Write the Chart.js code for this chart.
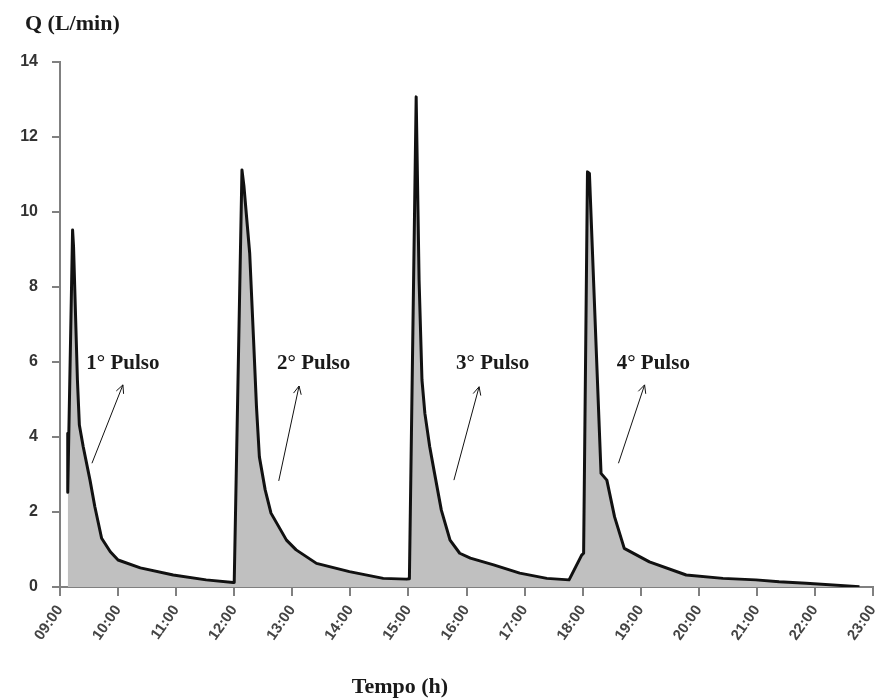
<!DOCTYPE html>
<html lang="pt">
<head>
    <meta charset="UTF-8">
    <title>Vazão - Pulsos</title>
    <script src="https://cdn.jsdelivr.net/npm/chart.js"></script>
    <style>
        body {
            margin: 0;
            background: #fff;
        }
        #wrap {
            width: 884px;
            height: 699px;
        }
    </style>
</head>
<body>
    <div id="wrap">
        <canvas id="flowChart" width="884" height="699"></canvas>
    </div>

    <script>
        // leituras da curva (hora, vazão em L/min)
        const times = [
            '09:08', '09:08', '09:13', '09:14', '09:18', '09:20', '09:24', '09:31', '09:36', '09:43', '09:52',
            '10:00', '10:23', '10:57', '11:31', '11:59',
            '12:00', '12:08', '12:10', '12:16', '12:20', '12:23', '12:26', '12:32', '12:38', '12:46', '12:54',
            '13:04', '13:25', '13:59', '14:34', '14:58',
            '15:01', '15:08', '15:11', '15:14', '15:17', '15:22', '15:27', '15:34', '15:43', '15:53', '16:04',
            '16:28', '16:55', '17:23', '17:46',
            '17:59', '18:01', '18:05', '18:07', '18:19', '18:25', '18:33', '18:43', '19:09', '19:47', '20:25',
            '20:59', '21:23', '21:51', '22:46'
        ];
        const flow = [
            4.1, 2.53, 9.52, 9.07, 5.52, 4.32, 3.74, 2.85, 2.14, 1.3, 0.94,
            0.72, 0.51, 0.32, 0.19, 0.12,
            0.12, 11.12, 10.7, 8.9, 6.59, 4.81, 3.47, 2.59, 1.97, 1.61, 1.25,
            0.99, 0.63, 0.41, 0.23, 0.21,
            0.22, 13.07, 8.19, 5.52, 4.63, 3.74, 3.03, 2.05, 1.25, 0.9, 0.77,
            0.59, 0.37, 0.23, 0.19,
            0.85, 0.9, 11.07, 11.03, 3.03, 2.85, 1.87, 1.03, 0.67, 0.32, 0.23,
            0.19, 0.14, 0.1, 0.01
        ];
        const hourTicks = ['09:00', '10:00', '11:00', '12:00', '13:00', '14:00', '15:00', '16:00',
            '17:00', '18:00', '19:00', '20:00', '21:00', '22:00', '23:00'];
        const flowTicks = [0, 2, 4, 6, 8, 10, 12, 14];

        const pulseNames = ['1° Pulso', '2° Pulso', '3° Pulso', '4° Pulso'];
        const pulseTextAt = ['10:05', '13:22', '16:27', '19:13'];
        // setas: início e ponta (hora, vazão)
        const arrowFrom = [['09:33', 3.3], ['12:46', 2.83], ['15:47', 2.85], ['18:37', 3.3]];
        const arrowTo = [['10:05', 5.39], ['13:07', 5.36], ['16:13', 5.34], ['19:04', 5.39]];

        const toHours = t => {
            const [h, m] = t.split(':').map(Number);
            return h + m / 60;
        };

        const points = times.map((t, i) => ({ x: toHours(t), y: flow[i] }));

        const serif = '"Times New Roman", "Liberation Serif", serif';
        const sans = 'Arial, "Liberation Sans", sans-serif';

        // textos e setas desenhados sobre o gráfico
        const notesPlugin = {
            id: 'notes',
            afterDraw(chart) {
                const ctx = chart.ctx;
                const xs = chart.scales.x;
                const ys = chart.scales.y;
                ctx.save();
                ctx.fillStyle = '#1a1a1a';
                ctx.font = 'bold 21px ' + serif;
                ctx.textAlign = 'center';
                ctx.textBaseline = 'middle';
                pulseNames.forEach((name, i) => {
                    ctx.fillText(name, xs.getPixelForValue(toHours(pulseTextAt[i])), ys.getPixelForValue(5.95));
                });

                ctx.strokeStyle = '#111';
                ctx.lineWidth = 1;
                arrowFrom.forEach((a, i) => {
                    const x1 = xs.getPixelForValue(toHours(a[0]));
                    const y1 = ys.getPixelForValue(a[1]);
                    const x2 = xs.getPixelForValue(toHours(arrowTo[i][0]));
                    const y2 = ys.getPixelForValue(arrowTo[i][1]);
                    const ang = Math.atan2(y2 - y1, x2 - x1);
                    ctx.beginPath();
                    ctx.moveTo(x1, y1);
                    ctx.lineTo(x2, y2);
                    ctx.moveTo(x2 - 9 * Math.cos(ang - 0.45), y2 - 9 * Math.sin(ang - 0.45));
                    ctx.lineTo(x2, y2);
                    ctx.lineTo(x2 - 9 * Math.cos(ang + 0.45), y2 - 9 * Math.sin(ang + 0.45));
                    ctx.stroke();
                });

                ctx.font = 'bold 22px ' + serif;
                ctx.textAlign = 'left';
                ctx.fillText('Q (L/min)', 25, 24);
                ctx.textAlign = 'center';
                ctx.fillText('Tempo (h)', 400, 687);
                ctx.restore();
            }
        };

        const ctx = document.getElementById('flowChart').getContext('2d');
        new Chart(ctx, {
            type: 'line',
            data: {
                datasets: [{
                    label: 'Q',
                    data: points,
                    borderColor: '#111',
                    borderWidth: 3,
                    borderJoinStyle: 'round',
                    backgroundColor: '#c0c0c0',
                    fill: 'origin',
                    pointRadius: 0,
                    tension: 0
                }]
            },
            options: {
                responsive: false,
                animation: false,
                layout: {
                    padding: { top: 62, right: 11, left: 0, bottom: 0 }
                },
                plugins: {
                    legend: { display: false },
                    tooltip: { enabled: false }
                },
                scales: {
                    x: {
                        type: 'linear',
                        min: 9,
                        max: 23,
                        afterFit: s => {
                            s.height = 112;
                            s.paddingLeft = 0;
                            s.paddingRight = 0;
                        },
                        afterBuildTicks: s => {
                            s.ticks = hourTicks.map(t => ({ value: toHours(t) }));
                        },
                        ticks: {
                            autoSkip: false,
                            minRotation: 55,
                            maxRotation: 55,
                            padding: 6,
                            color: '#444',
                            font: { family: sans, size: 15, weight: 'bold' },
                            callback: (v, i) => hourTicks[i]
                        },
                        grid: {
                            drawOnChartArea: false,
                            tickLength: 9,
                            color: '#808080',
                            lineWidth: 2
                        },
                        border: { color: '#808080', width: 2 }
                    },
                    y: {
                        min: 0,
                        max: 14,
                        afterFit: s => { s.width = 60; },
                        afterBuildTicks: s => {
                            s.ticks = flowTicks.map(v => ({ value: v }));
                        },
                        ticks: {
                            padding: 14,
                            color: '#333',
                            font: { family: sans, size: 16, weight: 'bold' }
                        },
                        grid: {
                            drawOnChartArea: false,
                            tickLength: 8,
                            color: '#808080',
                            lineWidth: 2
                        },
                        border: { color: '#808080', width: 2 }
                    }
                }
            },
            plugins: [notesPlugin]
        });
    </script>
</body>
</html>
